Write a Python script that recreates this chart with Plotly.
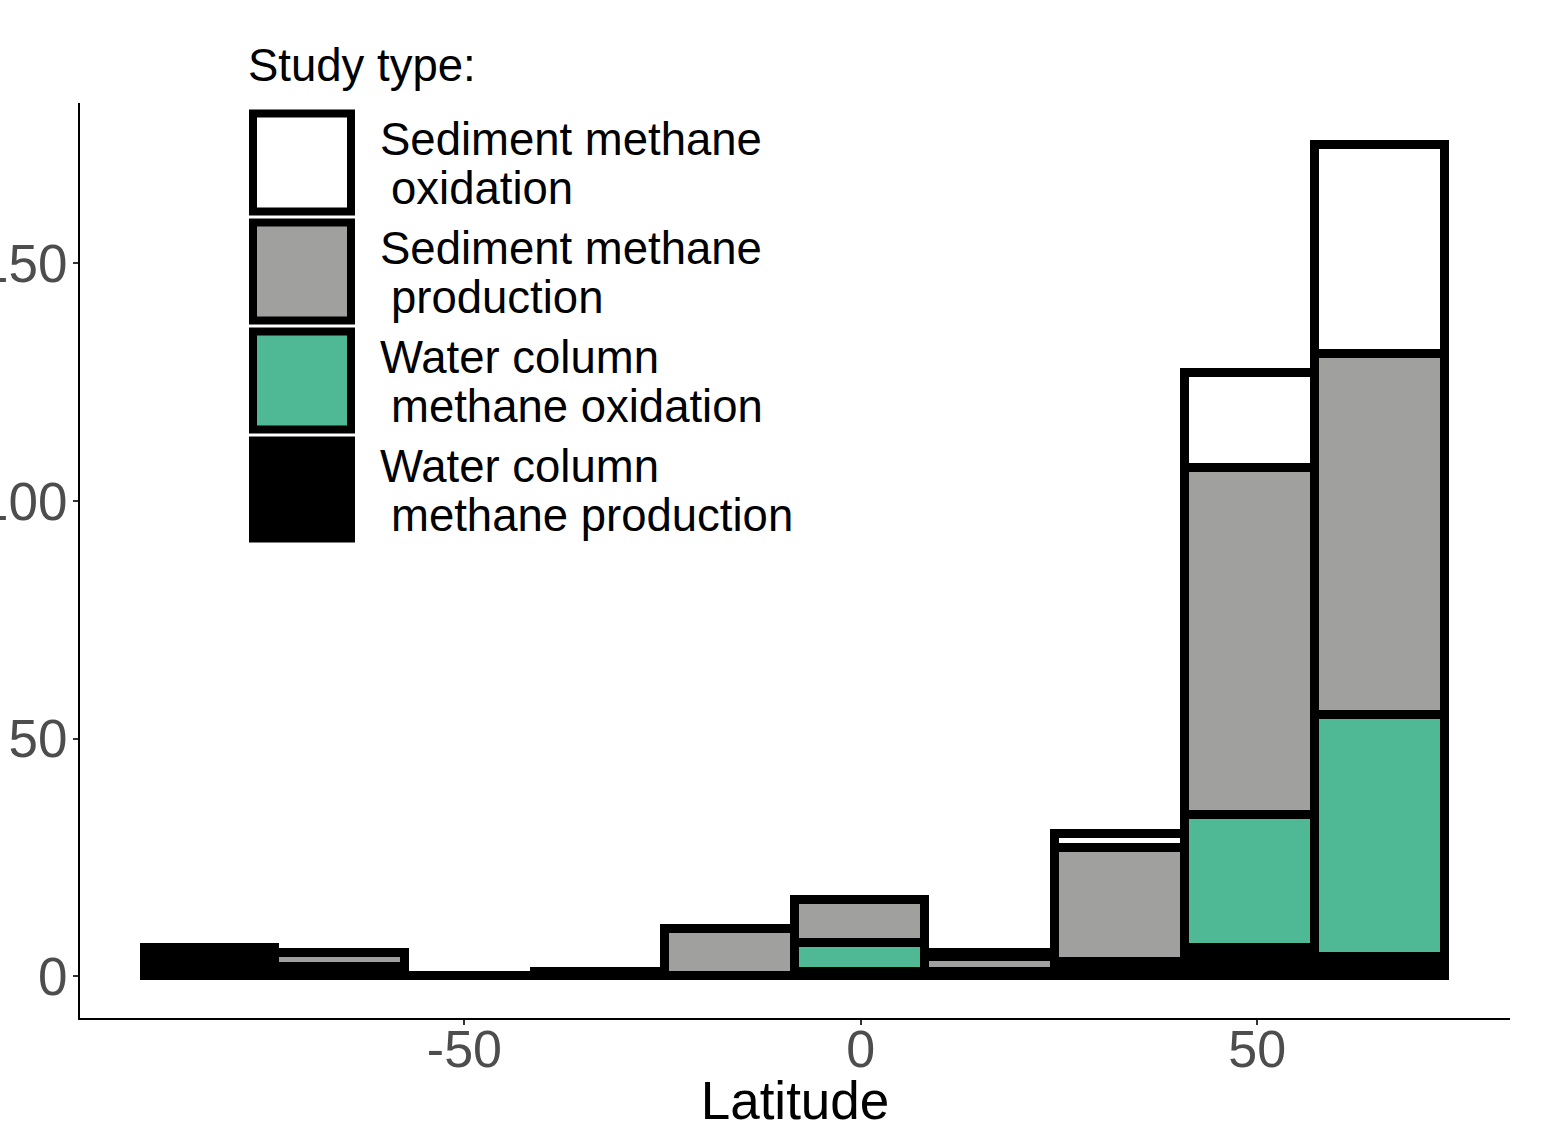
import plotly.graph_objects as go

# Histogram bins (latitude, degrees) and counts per study type in each bin
bin_edges = [-90.3, -73.9, -57.5, -41.1, -24.7, -8.3, 8.1, 24.5, 40.9, 57.3, 73.7]
wc_production = [6, 2, 0, 1, 0, 1, 1, 3, 6, 4]
wc_oxidation = [0, 0, 0, 0, 0, 6, 0, 0, 28, 51]
sed_production = [0, 3, 0, 0, 10, 9, 3, 24, 73, 76]
sed_oxidation = [0, 0, 0, 0, 0, 0, 1, 3, 20, 44]

study_labels = [
    ["Sediment methane", "oxidation"],
    ["Sediment methane", "production"],
    ["Water column", "methane oxidation"],
    ["Water column", "methane production"],
]
y_ticks = [0, 50, 100, 150]
x_ticks = [-50, 0, 50]
x_tick_text = ["-50", "0", "50"]

FILL = {
    "sed_oxidation": "#FFFFFF",
    "sed_production": "#A0A09F",
    "wc_oxidation": "#4FB995",
    "wc_production": "#000000",
}

FONT = "Liberation Sans, Arial, Helvetica, sans-serif"
W, H = 1546, 1130
M_L, M_R, M_T, M_B = 80, 36, 103, 112
OUTLINE = 9.5
LEG_SIZE = 45.5

centers = [(a + b) / 2 for a, b in zip(bin_edges[:-1], bin_edges[1:])]
widths = [b - a for a, b in zip(bin_edges[:-1], bin_edges[1:])]

fig = go.Figure()
# stacked bottom to top
for name, counts, key in [
    ("Water column methane production", wc_production, "wc_production"),
    ("Water column methane oxidation", wc_oxidation, "wc_oxidation"),
    ("Sediment methane production", sed_production, "sed_production"),
    ("Sediment methane oxidation", sed_oxidation, "sed_oxidation"),
]:
    fig.add_trace(go.Bar(
        x=centers, y=counts, width=widths, name=name,
        marker=dict(color=FILL[key], line=dict(color="black", width=OUTLINE)),
        showlegend=False, hoverinfo="x+y+name",
    ))

totals = [a + b + c + d for a, b, c, d in zip(wc_production, wc_oxidation, sed_production, sed_oxidation)]
ymax = max(totals)
xspan = bin_edges[-1] - bin_edges[0]

# helpers for placing the legend block in page pixels
pw = W - M_L - M_R
ph = H - M_T - M_B
def px(xp):
    return (xp - M_L) / pw
def py(yp):
    return (H - M_B - yp) / ph

shapes = []
annotations = []
key_colors = [FILL["sed_oxidation"], FILL["sed_production"], FILL["wc_oxidation"], FILL["wc_production"]]
key_lw = 8
for i, col in enumerate(key_colors):
    top = 109.5 + 109 * i
    x0, x1 = 249 + key_lw / 2, 355 - key_lw / 2
    y0, y1 = top + key_lw / 2, top + 106 - key_lw / 2
    shapes.append(dict(type="rect", xref="paper", yref="paper",
                       x0=px(x0), x1=px(x1), y0=py(y1), y1=py(y0),
                       fillcolor=col, line=dict(color="black", width=key_lw), layer="above"))
    first, second = study_labels[i]
    annotations.append(dict(text=first, xref="paper", yref="paper", x=px(378), y=py(139.5 + 109 * i),
                            xanchor="left", yanchor="middle", showarrow=False,
                            font=dict(family=FONT, size=LEG_SIZE, color="black")))
    annotations.append(dict(text=second, xref="paper", yref="paper", x=px(389), y=py(188 + 109 * i),
                            xanchor="left", yanchor="middle", showarrow=False,
                            font=dict(family=FONT, size=LEG_SIZE, color="black")))
annotations.append(dict(text="Study type:", xref="paper", yref="paper", x=px(246), y=py(65),
                        xanchor="left", yanchor="middle", showarrow=False,
                        font=dict(family=FONT, size=LEG_SIZE, color="black")))

fig.update_layout(
    width=W, height=H, autosize=False,
    margin=dict(l=M_L, r=M_R, t=M_T, b=M_B, pad=0),
    paper_bgcolor="white", plot_bgcolor="white",
    barmode="stack", bargap=0,
    font=dict(family=FONT),
    shapes=shapes, annotations=annotations,
    xaxis=dict(
        range=[bin_edges[0] - 0.05 * xspan, bin_edges[-1] + 0.05 * xspan],
        tickvals=x_ticks, ticktext=x_tick_text,
        ticks="outside", ticklen=5, tickwidth=2, tickcolor="#333333",
        tickfont=dict(family=FONT, size=52, color="#4D4D4D"), ticklabelstandoff=-20,
        showline=True, linecolor="black", linewidth=2,
        showgrid=False, zeroline=False, automargin=False,
        title=dict(text="Latitude", font=dict(family=FONT, size=53, color="black"), standoff=40),
    ),
    yaxis=dict(
        range=[-0.05 * ymax, 1.05 * ymax],
        tickvals=y_ticks, ticks="outside", ticklen=5, tickwidth=2, tickcolor="#333333",
        tickfont=dict(family=FONT, size=53, color="#4D4D4D"), ticklabelstandoff=-5,
        showline=True, linecolor="black", linewidth=2,
        showgrid=False, zeroline=False, automargin=False,
    ),
)

fig.write_html("out.html")
